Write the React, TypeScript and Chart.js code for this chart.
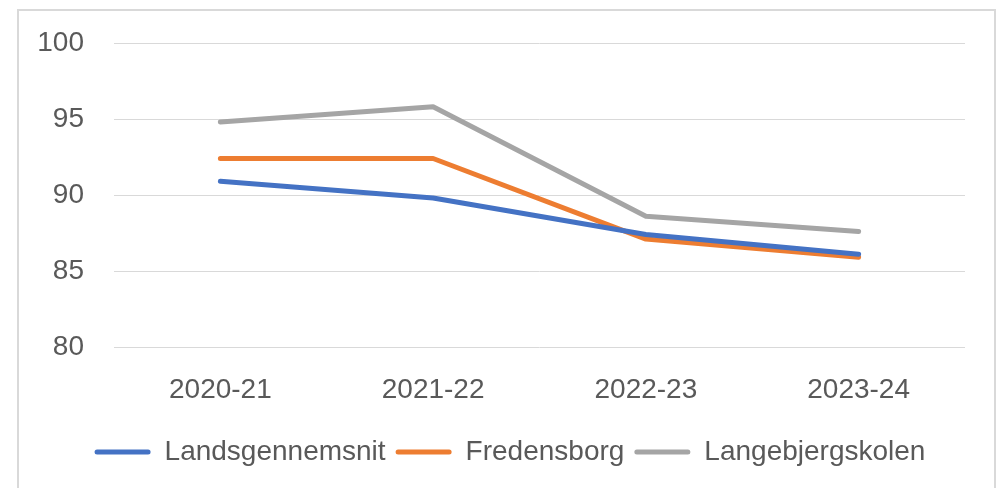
import React, { useEffect, useRef } from "react";
import { Chart, registerables } from "chart.js";

Chart.register(...registerables);

const categories = ["2020-21", "2021-22", "2022-23", "2023-24"];
const landsgennemsnit = [90.9, 89.8, 87.4, 86.1];
const fredensborg = [92.4, 92.4, 87.1, 85.9];
const langebjergskolen = [94.8, 95.8, 88.6, 87.6];
const seriesNames = ["Landsgennemsnit", "Fredensborg", "Langebjergskolen"];
const yTicks = { min: 80, max: 100, step: 5 };

const FONT = "'Liberation Sans', Arial, sans-serif";
const TEXT = "#595959";

const legendShift = {
  id: "legendShift",
  afterLayout(chart: any) {
    const l = chart.legend;
    if (l) {
      l.left += 27.5;
      l.right += 27.5;
    }
  },
};

export default function App() {
  const ref = useRef<HTMLCanvasElement>(null);
  useEffect(() => {
    if (!ref.current) return;
    const mk = (label: string, data: number[], color: string) => ({
      label,
      data,
      borderColor: color,
      backgroundColor: color,
      borderWidth: 5,
      borderCapStyle: "round" as const,
      borderJoinStyle: "round" as const,
      pointRadius: 0,
      pointHoverRadius: 0,
      tension: 0,
      fill: false,
    });
    const chart = new Chart(ref.current, {
      type: "line",
      data: {
        labels: categories,
        datasets: [
          mk(seriesNames[0], landsgennemsnit, "#4472C4"),
          mk(seriesNames[1], fredensborg, "#ED7D31"),
          mk(seriesNames[2], langebjergskolen, "#A5A5A5"),
        ],
      },
      plugins: [legendShift],
      options: {
        responsive: false,
        animation: false,
        layout: { padding: { top: 43, left: 0, right: 32, bottom: 12 } },
        plugins: {
          tooltip: { enabled: false },
          legend: {
            position: "bottom",
            labels: {
              font: { family: FONT, size: 28 },
              color: TEXT,
              boxWidth: 56,
              boxHeight: 5,
              useBorderRadius: true,
              borderRadius: 2.5,
              padding: 10,
              generateLabels: (c: any) =>
                c.data.datasets.map((d: any, i: number) => ({
                  text: d.label,
                  fillStyle: d.borderColor,
                  strokeStyle: d.borderColor,
                  lineWidth: 0,
                  fontColor: TEXT,
                  datasetIndex: i,
                  borderRadius: 2.5,
                })),
            },
          },
        },
        scales: {
          x: {
            offset: true,
            grid: { display: false, drawTicks: false },
            border: { display: false },
            ticks: { font: { family: FONT, size: 28 }, color: TEXT, padding: 26, maxRotation: 0 },
            afterFit: (s: any) => {
              s.height = 81;
            },
          },
          y: {
            min: yTicks.min,
            max: yTicks.max,
            grid: {
              color: "#d9d9d9",
              lineWidth: 1,
              drawTicks: true,
              tickLength: 30,
              tickColor: "rgba(0,0,0,0)",
            },
            border: { display: false },
            ticks: {
              stepSize: yTicks.step,
              font: { family: FONT, size: 28 },
              color: TEXT,
              padding: 0,
            },
            afterFit: (s: any) => {
              s.width = 114;
            },
          },
        },
      },
    });
    return () => chart.destroy();
  }, []);
  return (
    <div style={{ position: "fixed", left: 0, top: 0, width: 997, height: 488, background: "#fff", overflow: "hidden" }}>
      <div
        style={{
          position: "absolute",
          left: 17,
          top: 9,
          width: 979,
          height: 520,
          border: "2px solid #d9d9d9",
          boxSizing: "border-box",
        }}
      />
      <canvas ref={ref} width={997} height={488} style={{ position: "absolute", left: 0, top: 0 }} />
    </div>
  );
}
